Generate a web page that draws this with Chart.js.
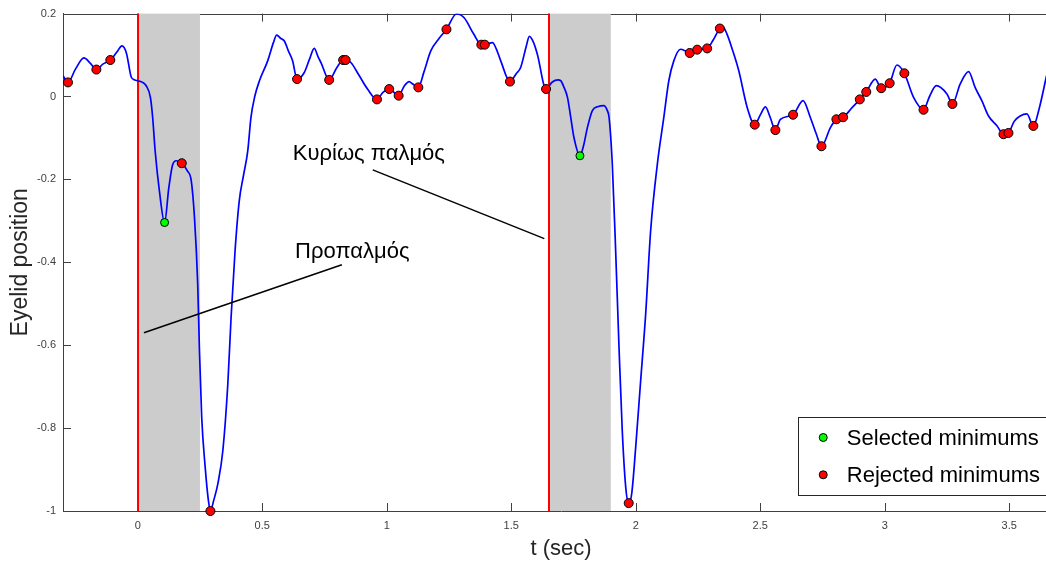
<!DOCTYPE html>
<html>
<head>
<meta charset="utf-8">
<title>Eyelid position</title>
<script src="https://cdn.jsdelivr.net/npm/chart.js@4.4.1/dist/chart.umd.min.js"></script>
<style>
  html, body { margin: 0; padding: 0; background: #fff; overflow: hidden; }
  #wrap { width: 1066px; height: 562px; }
</style>
</head>
<body>
<div id="wrap"><canvas id="blinkChart" width="1066" height="562"></canvas></div>
<script>
// eyelid trace, t in seconds
const tData = [
  -0.300, -0.280, -0.250, -0.216, -0.190, -0.166, -0.140, -0.110, -0.085, -0.063,
  -0.045, -0.026, -0.012, 0.000, 0.020, 0.034, 0.051, 0.060, 0.070, 0.087,
  0.108, 0.125, 0.140, 0.155, 0.177, 0.200, 0.215, 0.228, 0.241, 0.248,
  0.257, 0.271, 0.284, 0.292, 0.305, 0.322, 0.342, 0.362, 0.375, 0.391,
  0.408, 0.425, 0.442, 0.455, 0.470, 0.489, 0.522, 0.545, 0.558, 0.575,
  0.589, 0.605, 0.622, 0.640, 0.669, 0.690, 0.709, 0.725, 0.736, 0.769,
  0.800, 0.825, 0.835, 0.856, 0.890, 0.923, 0.961, 0.985, 1.010, 1.048,
  1.070, 1.090, 1.105, 1.127, 1.150, 1.177, 1.210, 1.240, 1.280, 1.311,
  1.350, 1.380, 1.394, 1.425, 1.440, 1.458, 1.495, 1.520, 1.538, 1.560,
  1.573, 1.590, 1.605, 1.640, 1.665, 1.688, 1.699, 1.712, 1.726, 1.739,
  1.752, 1.776, 1.790, 1.806, 1.826, 1.850, 1.872, 1.886, 1.893, 1.906,
  1.919, 1.933, 1.946, 1.960, 1.972, 1.984, 2.000, 2.020, 2.040, 2.060,
  2.087, 2.113, 2.133, 2.153, 2.180, 2.200, 2.217, 2.247, 2.287, 2.310,
  2.338, 2.350, 2.367, 2.390, 2.414, 2.448, 2.478, 2.500, 2.521, 2.540,
  2.561, 2.581, 2.632, 2.672, 2.701, 2.725, 2.746, 2.782, 2.806, 2.833,
  2.869, 2.900, 2.926, 2.962, 2.986, 3.020, 3.049, 3.079, 3.116, 3.156,
  3.180, 3.207, 3.250, 3.272, 3.303, 3.337, 3.363, 3.390, 3.417, 3.450,
  3.477, 3.497, 3.520, 3.544, 3.571, 3.597, 3.620, 3.650
];
const eyelidPos = [
  0.050, 0.034, 0.066, 0.093, 0.080, 0.065, 0.078, 0.088, 0.106, 0.122,
  0.104, 0.047, 0.040, 0.038, 0.034, 0.026, -0.002, -0.050, -0.131, -0.227,
  -0.304, -0.220, -0.165, -0.155, -0.161, -0.180, -0.203, -0.292, -0.452, -0.613,
  -0.774, -0.894, -0.975, -1.000, -0.975, -0.934, -0.854, -0.693, -0.533, -0.372,
  -0.251, -0.190, -0.131, -0.050, 0.000, 0.038, 0.086, 0.130, 0.148, 0.140,
  0.134, 0.110, 0.086, 0.042, 0.058, 0.090, 0.116, 0.095, 0.082, 0.040,
  0.070, 0.088, 0.088, 0.082, 0.050, 0.018, -0.007, 0.010, 0.018, 0.002,
  0.025, 0.036, 0.030, 0.022, 0.060, 0.110, 0.140, 0.162, 0.199, 0.190,
  0.150, 0.125, 0.125, 0.130, 0.115, 0.086, 0.036, 0.055, 0.070, 0.120,
  0.145, 0.130, 0.102, 0.018, 0.035, 0.040, 0.038, 0.022, -0.002, -0.050,
  -0.099, -0.143, -0.120, -0.075, -0.034, -0.024, -0.022, -0.034, -0.050, -0.163,
  -0.364, -0.605, -0.806, -0.943, -0.981, -0.958, -0.846, -0.685, -0.525, -0.324,
  -0.163, -0.050, 0.038, 0.086, 0.114, 0.110, 0.105, 0.113, 0.116, 0.135,
  0.164, 0.168, 0.150, 0.110, 0.062, -0.027, -0.068, -0.045, -0.025, -0.050,
  -0.081, -0.055, -0.044, -0.010, -0.050, -0.090, -0.120, -0.075, -0.055, -0.050,
  -0.027, -0.007, 0.011, 0.042, 0.020, 0.032, 0.076, 0.056, -0.002, -0.032,
  0.000, 0.026, 0.006, -0.018, 0.030, 0.060, 0.022, -0.010, -0.047, -0.070,
  -0.091, -0.088, -0.060, -0.047, -0.042, -0.071, -0.030, 0.050
];

// minima picked by the detector
const selectedT = [0.108, 1.776];
const selectedY = [-0.304, -0.143];
const rejectedT = [
  -0.280, -0.166, -0.110, 0.177, 0.292, 0.640, 0.769, 0.825, 0.835, 0.961,
  1.010, 1.048, 1.127, 1.240, 1.380, 1.394, 1.495, 1.640, 1.972, 2.217,
  2.247, 2.287, 2.338, 2.478, 2.561, 2.632, 2.746, 2.806, 2.833, 2.900,
  2.926, 2.986, 3.020, 3.079, 3.156, 3.272, 3.477, 3.497, 3.597
];
const rejectedY = [
  0.034, 0.065, 0.088, -0.161, -1.000, 0.042, 0.040, 0.088, 0.088, -0.007,
  0.018, 0.002, 0.022, 0.162, 0.125, 0.125, 0.036, 0.018, -0.981, 0.105,
  0.113, 0.116, 0.164, -0.068, -0.081, -0.044, -0.120, -0.055, -0.050, -0.007,
  0.011, 0.020, 0.032, 0.056, -0.032, -0.018, -0.091, -0.088, -0.071
];

// blink onsets and the search windows after them
const onsetT = [0, 1.65];
const windowEndT = [0.25, 1.9];

const xTicks = [0, 0.5, 1, 1.5, 2, 2.5, 3, 3.5];
const yTicks = [-1, -0.8, -0.6, -0.4, -0.2, 0, 0.2];

// text callouts, in data units
const notes = [
  { text: "Κυρίως παλμός", at: [0.623, -0.152], from: [0.944, -0.177], to: [1.633, -0.343] },
  { text: "Προπαλμός", at: [0.632, -0.389], from: [0.820, -0.406], to: [0.025, -0.570] }
];

const FONT = "'Liberation Sans', Arial, Helvetica, sans-serif";
const AXIS_COLOR = "#404040";
const TICK_LEN = 8;

function pts(xs, ys) {
  return xs.map((x, i) => ({ x: x, y: ys[i] }));
}

function fmt(v) {
  return String(Math.round(v * 10) / 10);
}

function crisp(v) {
  return Math.round(v) + 0.5;
}

// box top edge and inward tick marks
const frame = {
  id: "frame",
  beforeDatasetsDraw(chart) {
    const { ctx, chartArea: a, scales: { x, y } } = chart;
    ctx.save();
    ctx.strokeStyle = AXIS_COLOR;
    ctx.lineWidth = 1;
    ctx.beginPath();
    ctx.moveTo(a.left, crisp(a.top));
    ctx.lineTo(a.right, crisp(a.top));
    xTicks.forEach(v => {
      const px = crisp(x.getPixelForValue(v));
      ctx.moveTo(px, a.bottom);
      ctx.lineTo(px, a.bottom - TICK_LEN);
      ctx.moveTo(px, a.top);
      ctx.lineTo(px, a.top + TICK_LEN);
    });
    yTicks.forEach(v => {
      const py = crisp(y.getPixelForValue(v));
      ctx.moveTo(a.left, py);
      ctx.lineTo(a.left + TICK_LEN, py);
    });
    ctx.stroke();
    ctx.restore();
  }
};

// grey search windows and red onset markers
const windows = {
  id: "windows",
  beforeDatasetsDraw(chart) {
    const { ctx, chartArea: a, scales: { x } } = chart;
    ctx.save();
    ctx.fillStyle = "#cccccc";
    onsetT.forEach((t0, i) => {
      const x0 = x.getPixelForValue(t0);
      const x1 = x.getPixelForValue(windowEndT[i]);
      ctx.fillRect(x0, a.top, x1 - x0, a.bottom - a.top);
    });
    ctx.strokeStyle = "#ff0000";
    ctx.lineWidth = 2;
    onsetT.forEach(t0 => {
      const px = Math.round(x.getPixelForValue(t0));
      ctx.beginPath();
      ctx.moveTo(px, a.top);
      ctx.lineTo(px, a.bottom);
      ctx.stroke();
    });
    ctx.restore();
  }
};

// callouts and legend box
const overlay = {
  id: "overlay",
  afterDatasetsDraw(chart) {
    const { ctx, chartArea: a, scales: { x, y } } = chart;
    ctx.save();

    ctx.font = "22px " + FONT;
    ctx.fillStyle = "#000";
    ctx.strokeStyle = "#000";
    ctx.lineWidth = 1.5;
    ctx.textBaseline = "alphabetic";
    ctx.textAlign = "left";
    notes.forEach(n => {
      ctx.fillText(n.text, x.getPixelForValue(n.at[0]), y.getPixelForValue(n.at[1]));
      ctx.beginPath();
      ctx.moveTo(x.getPixelForValue(n.from[0]), y.getPixelForValue(n.from[1]));
      ctx.lineTo(x.getPixelForValue(n.to[0]), y.getPixelForValue(n.to[1]));
      ctx.stroke();
    });

    const items = chart.data.datasets.filter(d => d.label);
    const textW = Math.max(...items.map(d => ctx.measureText(d.label).width));
    const boxW = 49 + textW + 9;
    const boxH = 78;
    const right = a.right - 10;
    const bottom = a.bottom - 16;
    const left = right - boxW;
    const top = bottom - boxH;
    ctx.fillStyle = "#fff";
    ctx.fillRect(left, top, boxW, boxH);
    ctx.strokeStyle = "#262626";
    ctx.lineWidth = 1;
    ctx.strokeRect(crisp(left), crisp(top), Math.round(boxW), Math.round(boxH));

    ctx.textBaseline = "middle";
    items.forEach((d, i) => {
      const rowY = top + 20.5 + i * 37.3;
      ctx.beginPath();
      ctx.arc(left + 25.4, rowY, 4, 0, Math.PI * 2);
      ctx.fillStyle = d.backgroundColor;
      ctx.fill();
      ctx.strokeStyle = "#000";
      ctx.stroke();
      ctx.fillStyle = "#000";
      ctx.fillText(d.label, left + 49, rowY + 1);
    });
    ctx.restore();
  }
};

new Chart(document.getElementById("blinkChart"), {
  type: "scatter",
  data: {
    datasets: [
      {
        label: "Selected minimums",
        data: pts(selectedT, selectedY),
        backgroundColor: "#00ff00",
        borderColor: "#000",
        borderWidth: 1,
        pointRadius: 4,
        clip: false
      },
      {
        label: "Rejected minimums",
        data: pts(rejectedT, rejectedY),
        backgroundColor: "#ff0000",
        borderColor: "#000",
        borderWidth: 1,
        pointRadius: 4.5,
        clip: false
      },
      {
        type: "line",
        data: pts(tData, eyelidPos),
        showLine: true,
        borderColor: "#0000ff",
        borderWidth: 1.7,
        pointRadius: 0,
        fill: false,
        cubicInterpolationMode: "monotone"
      }
    ]
  },
  options: {
    responsive: false,
    animation: false,
    devicePixelRatio: 1,
    events: [],
    layout: { padding: { top: 13, right: 7, left: 0, bottom: 0 } },
    plugins: {
      legend: { display: false },
      tooltip: { enabled: false }
    },
    scales: {
      x: {
        type: "linear",
        min: -0.3,
        max: 3.7,
        afterFit(scale) { scale.height = 51; },
        afterBuildTicks(scale) { scale.ticks = xTicks.map(v => ({ value: v })); },
        grid: { display: false, drawTicks: false },
        border: { display: true, color: AXIS_COLOR, width: 1 },
        ticks: {
          padding: 8,
          color: "#404040",
          maxRotation: 0,
          autoSkip: false,
          font: { family: FONT, size: 11 },
          callback: v => fmt(v)
        },
        title: {
          display: true,
          text: "t (sec)",
          color: "#262626",
          font: { family: FONT, size: 22 },
          padding: { top: 0, bottom: 0 }
        }
      },
      y: {
        type: "linear",
        min: -1,
        max: 0.2,
        afterFit(scale) { scale.width = 63; },
        afterBuildTicks(scale) { scale.ticks = yTicks.map(v => ({ value: v })); },
        grid: { display: false, drawTicks: false },
        border: { display: true, color: AXIS_COLOR, width: 1 },
        ticks: {
          padding: 7,
          color: "#404040",
          autoSkip: false,
          font: { family: FONT, size: 11 },
          callback: v => fmt(v)
        },
        title: {
          display: true,
          text: "Eyelid position",
          color: "#262626",
          font: { family: FONT, size: 23 },
          padding: { top: 7, bottom: 0 }
        }
      }
    }
  },
  plugins: [frame, windows, overlay]
});
</script>
</body>
</html>
